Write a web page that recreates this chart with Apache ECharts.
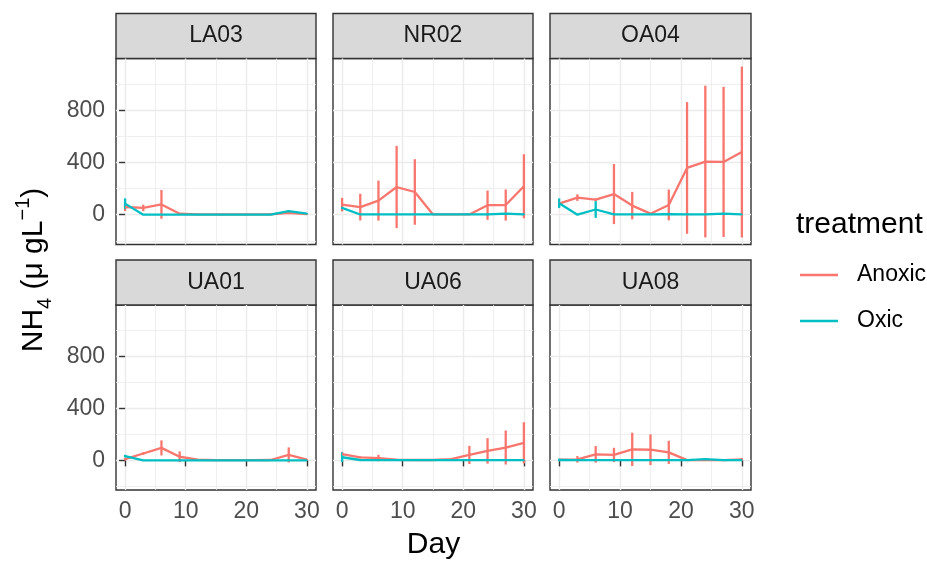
<!DOCTYPE html>
<html>
<head>
<meta charset="utf-8">
<script src="https://cdn.jsdelivr.net/npm/echarts@6/dist/echarts.min.js"></script>
<style>
html,body{margin:0;padding:0;background:#fff;}
#chart{width:927px;height:561px;}
</style>
</head>
<body>
<div id="chart"></div>
<script>
// ---- data ----
const DAYS = [0, 3, 6, 9, 12, 15, 18, 21, 24, 27, 30];
const SITES = ['LA03', 'NR02', 'OA04', 'UA01', 'UA06', 'UA08'];
const TREATMENTS = ['Anoxic', 'Oxic'];
const X_TICKS = [0, 10, 20, 30];
const X_MINOR = [5, 15, 25];
const Y_TICKS = [0, 400, 800];
const Y_MINOR = [-200, 200, 600, 1000];

const LA03_anoxic_mean = [59, 52, 79, 8, 2, 2, 3, 2, 3, 15, 5];
const LA03_anoxic_sd   = [30, 25, 110, 5, 3, 3, 5, 5, 5, 10, 5];
const LA03_oxic_mean   = [85, 0, 0, 0, 0, 0, 0, 0, 0, 28, 8];
const LA03_oxic_sd     = [40, 2, 2, 2, 2, 2, 2, 2, 2, 8, 5];

const NR02_anoxic_mean = [77, 58, 108, 212, 174, 2, 2, 2, 73, 74, 218];
const NR02_anoxic_sd   = [52, 102, 153, 315, 251, 3, 3, 3, 112, 119, 245];
const NR02_oxic_mean   = [52, 2, 2, 2, 2, 2, 2, 2, 3, 8, 3];
const NR02_oxic_sd     = [8, 2, 2, 2, 2, 2, 2, 2, 8, 5, 5];

const OA04_anoxic_mean = [85, 131, 115, 158, 70, 8, 75, 358, 407, 404, 480];
const OA04_anoxic_sd   = [10, 25, 10, 230, 105, 5, 118, 504, 581, 575, 654];
const OA04_oxic_mean   = [88, 0, 40, 3, 2, 2, 5, 2, 2, 8, 2];
const OA04_oxic_sd     = [37, 2, 64, 5, 3, 5, 5, 3, 3, 5, 3];

const UA01_anoxic_mean = [10, 53, 96, 28, 5, 2, 2, 2, 3, 42, 5];
const UA01_anoxic_sd   = [10, 10, 58, 41, 5, 3, 3, 3, 5, 58, 5];
const UA01_oxic_mean   = [33, 0, 0, 0, 0, 0, 0, 0, 0, 0, 0];
const UA01_oxic_sd     = [10, 2, 2, 2, 2, 2, 2, 2, 2, 2, 2];

const UA06_anoxic_mean = [48, 23, 18, 5, 3, 3, 10, 42, 73, 99, 135];
const UA06_anoxic_sd   = [15, 8, 25, 3, 3, 3, 5, 70, 98, 131, 159];
const UA06_oxic_mean   = [24, 3, 2, 2, 2, 2, 2, 2, 2, 2, 2];
const UA06_oxic_sd     = [37, 3, 3, 5, 3, 3, 3, 3, 3, 3, 3];

const UA08_anoxic_mean = [5, 8, 46, 42, 85, 82, 62, 2, 2, 2, 8];
const UA08_anoxic_sd   = [5, 25, 64, 55, 128, 118, 89, 3, 3, 3, 10];
const UA08_oxic_mean   = [3, 2, 2, 2, 2, 2, 2, 2, 10, 2, 2];
const UA08_oxic_sd     = [10, 3, 5, 3, 3, 3, 3, 3, 8, 3, 3];

const SITE_DATA = {
  LA03: { Anoxic: [LA03_anoxic_mean, LA03_anoxic_sd], Oxic: [LA03_oxic_mean, LA03_oxic_sd] },
  NR02: { Anoxic: [NR02_anoxic_mean, NR02_anoxic_sd], Oxic: [NR02_oxic_mean, NR02_oxic_sd] },
  OA04: { Anoxic: [OA04_anoxic_mean, OA04_anoxic_sd], Oxic: [OA04_oxic_mean, OA04_oxic_sd] },
  UA01: { Anoxic: [UA01_anoxic_mean, UA01_anoxic_sd], Oxic: [UA01_oxic_mean, UA01_oxic_sd] },
  UA06: { Anoxic: [UA06_anoxic_mean, UA06_anoxic_sd], Oxic: [UA06_oxic_mean, UA06_oxic_sd] },
  UA08: { Anoxic: [UA08_anoxic_mean, UA08_anoxic_sd], Oxic: [UA08_oxic_mean, UA08_oxic_sd] }
};

// ---- layout / style ----
const FONT = 'Liberation Sans, Arial, Helvetica, sans-serif';
const COLORS = { Anoxic: '#F8766D', Oxic: '#00BFC4' };
const COL_LEFT = [116, 333, 550];
const COL_W = [200, 200, 201];
const ROW_TOP = [58.5, 305];
const ROW_H = [186, 185];
const STRIP_H = 45;
const Y_MIN = -228, Y_MAX = 1196;
const X_MIN = -1.5, X_MAX = 31.5;
const LW = 2.3;

const grids = [], xAxes = [], yAxes = [], series = [], graphics = [];

SITES.forEach((site, i) => {
  const row = Math.floor(i / 3), col = i % 3;
  grids.push({
    left: COL_LEFT[col], top: ROW_TOP[row], width: COL_W[col], height: ROW_H[row],
    show: true, backgroundColor: '#FFFFFF', borderColor: '#333333', borderWidth: 1.4
  });
  const showX = row === 1, showY = col === 0;
  xAxes.push({
    gridIndex: i, type: 'value', min: X_MIN, max: X_MAX,
    axisLine: { show: false },
    axisTick: { show: showX, customValues: X_TICKS, length: 6, lineStyle: { color: '#333333', width: 1.4 } },
    axisLabel: { show: showX, customValues: X_TICKS, fontSize: 23, color: '#4D4D4D', fontFamily: FONT, margin: 10 },
    splitLine: { show: true, lineStyle: { color: '#EBEBEB', width: 1.4 } }
  });
  xAxes.push({
    gridIndex: i, type: 'value', min: X_MIN, max: X_MAX,
    axisLine: { show: false },
    axisTick: { show: false, customValues: X_MINOR },
    axisLabel: { show: false, customValues: X_MINOR },
    splitLine: { show: true, lineStyle: { color: '#EBEBEB', width: 0.8 } }
  });
  yAxes.push({
    gridIndex: i, type: 'value', min: Y_MIN, max: Y_MAX,
    axisLine: { show: false },
    axisTick: { show: showY, customValues: Y_TICKS, length: 6, lineStyle: { color: '#333333', width: 1.4 } },
    axisLabel: { show: showY, customValues: Y_TICKS, fontSize: 23, color: '#4D4D4D', fontFamily: FONT, margin: 11 },
    splitLine: { show: true, lineStyle: { color: '#EBEBEB', width: 1.4 } }
  });
  yAxes.push({
    gridIndex: i, type: 'value', min: Y_MIN, max: Y_MAX,
    axisLine: { show: false },
    axisTick: { show: false, customValues: Y_MINOR },
    axisLabel: { show: false, customValues: Y_MINOR },
    splitLine: { show: true, lineStyle: { color: '#EBEBEB', width: 0.8 } }
  });

  const xi = 2 * i, yi = 2 * i;
  TREATMENTS.forEach(t => {
    const [mean, sd] = SITE_DATA[site][t];
    const color = COLORS[t];
    series.push({
      type: 'custom', name: t + ' error', xAxisIndex: xi, yAxisIndex: yi,
      data: DAYS.map((d, k) => [d, mean[k] - sd[k], mean[k] + sd[k]]),
      encode: { x: 0, y: [1, 2] },
      silent: true, z: 3,
      renderItem: (params, api) => {
        const x = api.value(0);
        const p1 = api.coord([x, api.value(1)]);
        const p2 = api.coord([x, api.value(2)]);
        return {
          type: 'line',
          shape: { x1: p1[0], y1: p1[1], x2: p2[0], y2: p2[1] },
          style: { stroke: color, lineWidth: LW }
        };
      }
    });
  });
  TREATMENTS.forEach(t => {
    const [mean] = SITE_DATA[site][t];
    series.push({
      type: 'line', name: t, xAxisIndex: xi, yAxisIndex: yi,
      data: DAYS.map((d, k) => [d, mean[k]]),
      symbol: 'none', showSymbol: false, silent: true, z: 4,
      lineStyle: { color: COLORS[t], width: LW }, itemStyle: { color: COLORS[t] }
    });
  });

  graphics.push({
    type: 'rect', silent: true,
    shape: { x: COL_LEFT[col], y: ROW_TOP[row] - STRIP_H, width: COL_W[col], height: STRIP_H },
    style: { fill: '#D9D9D9', stroke: '#333333', lineWidth: 1.4 }
  });
  graphics.push({
    type: 'text', silent: true,
    x: COL_LEFT[col] + COL_W[col] / 2, y: ROW_TOP[row] - STRIP_H / 2,
    style: { text: site, fontSize: 23, fontFamily: FONT, fill: '#1A1A1A', align: 'center', verticalAlign: 'middle' }
  });
});

// axis titles
graphics.push({
  type: 'text', silent: true, x: 433.5, y: 545,
  style: { text: 'Day', fontSize: 30, fontFamily: FONT, fill: '#000000', align: 'center', verticalAlign: 'middle' }
});
graphics.push({
  type: 'text', silent: true, x: 34, y: 270, rotation: Math.PI / 2,
  style: {
    text: '{m|NH}{sub|4}{m| (μ gL}{sup|−1}{m|)}',
    align: 'center', verticalAlign: 'middle', fill: '#000000', fontFamily: FONT, fontSize: 30,
    rich: {
      m: { fontSize: 30, lineHeight: 42, fontFamily: FONT, fill: '#000000', verticalAlign: 'middle' },
      sub: { fontSize: 20, lineHeight: 20, fontFamily: FONT, fill: '#000000', verticalAlign: 'bottom' },
      sup: { fontSize: 20, lineHeight: 20, fontFamily: FONT, fill: '#000000', verticalAlign: 'top' }
    }
  }
});
// legend
graphics.push({
  type: 'text', silent: true, x: 796, y: 225,
  style: { text: 'treatment', fontSize: 30, fontFamily: FONT, fill: '#000000', align: 'left', verticalAlign: 'middle' }
});
const LEGEND_Y = [275, 321];
TREATMENTS.forEach((t, k) => {
  graphics.push({
    type: 'line', silent: true,
    shape: { x1: 800, y1: LEGEND_Y[k], x2: 838, y2: LEGEND_Y[k] },
    style: { stroke: COLORS[t], lineWidth: LW }
  });
  graphics.push({
    type: 'text', silent: true, x: 857, y: LEGEND_Y[k],
    style: { text: t, fontSize: 23, fontFamily: FONT, fill: '#000000', align: 'left', verticalAlign: 'middle' }
  });
});

const chart = echarts.init(document.getElementById('chart'), null, { renderer: 'canvas' });
chart.setOption({
  animation: false,
  backgroundColor: '#FFFFFF',
  grid: grids,
  xAxis: xAxes,
  yAxis: yAxes,
  series: series,
  graphic: graphics
});
</script>
</body>
</html>
